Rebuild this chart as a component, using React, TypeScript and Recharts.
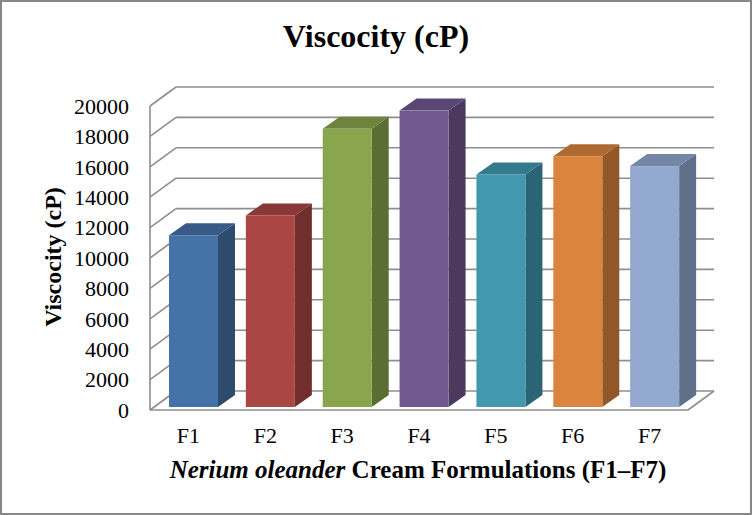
import { BarChart, Bar, XAxis, YAxis, CartesianGrid } from 'recharts';

const formulations = ['F1', 'F2', 'F3', 'F4', 'F5', 'F6', 'F7'];
const viscosity = [11300, 12600, 18300, 19500, 15300, 16500, 15850];
const yTicks = [0, 2000, 4000, 6000, 8000, 10000, 12000, 14000, 16000, 18000, 20000];
const faceColors = ['#4572a7', '#aa4643', '#89a54e', '#71588f', '#4198af', '#db843d', '#93a9cf'];

const data = formulations.map((name, i) => ({ name, viscosity: viscosity[i] }));

const W = 752;
const H = 515;
const MARGIN = { top: 106, right: 64, bottom: 75, left: 90 };
const XAXIS_H = 30;
const PLOT_BOTTOM = H - MARGIN.bottom - XAXIS_H;

// wall depth and bar depth (3d look)
const WALL_DX = 26;
const WALL_DY = 19;
const BAR_DX = 17;
const BAR_DY = 12;
const BAR_SHIFT_X = 5;
const BAR_SHIFT_Y = 3;

const GRID = '#8e8e8e';
const SERIF = "'Liberation Serif', 'Times New Roman', serif";
const tickStyle = { fill: '#000', fontSize: 22, fontFamily: SERIF, style: { fontFamily: SERIF } };

function shade(hex: string, k: number) {
  const n = parseInt(hex.slice(1), 16);
  const r = Math.round(((n >> 16) & 255) * k);
  const g = Math.round(((n >> 8) & 255) * k);
  const b = Math.round((n & 255) * k);
  return `rgb(${r},${g},${b})`;
}

function Bar3D(props: any) {
  const { x, y, width, height, index } = props;
  if (height == null || width == null) return null;
  const fx = x + BAR_SHIFT_X;
  const fy = y - BAR_SHIFT_Y;
  const c = faceColors[index % faceColors.length];
  const side = `${fx + width},${fy} ${fx + width + BAR_DX},${fy - BAR_DY} ${fx + width + BAR_DX},${fy + height - BAR_DY} ${fx + width},${fy + height}`;
  const top = `${fx},${fy} ${fx + BAR_DX},${fy - BAR_DY} ${fx + width + BAR_DX},${fy - BAR_DY} ${fx + width},${fy}`;
  return (
    <g>
      <polygon points={side} fill={shade(c, 0.66)} />
      <polygon points={top} fill={shade(c, 0.8)} />
      <rect x={fx} y={fy} width={width} height={height} fill={c} />
    </g>
  );
}

function gridLine(props: any) {
  const { x1, y1, x2, y2 } = props;
  const isFloor = Math.abs(y1 - PLOT_BOTTOM) < 0.5;
  return (
    <g key={`g-${y1}`} stroke={GRID} strokeWidth={1.6}>
      <line x1={x1} y1={y1} x2={x1 + WALL_DX} y2={y1 - WALL_DY} />
      <line x1={x1 + WALL_DX} y1={y1 - WALL_DY} x2={x2 + WALL_DX} y2={y2 - WALL_DY} />
      {isFloor && <line x1={x2} y1={y2} x2={x2 + WALL_DX} y2={y2 - WALL_DY} />}
    </g>
  );
}

export default function App() {
  return (
    <div
      style={{
        position: 'fixed',
        left: 0,
        top: 0,
        width: W,
        height: H,
        background: '#fff',
        fontFamily: SERIF,
      }}
    >
      <div
        style={{
          position: 'absolute',
          inset: 0,
          border: '2px solid #878787',
          boxSizing: 'border-box',
          pointerEvents: 'none',
        }}
      />
      <div
        style={{
          position: 'absolute',
          left: 0,
          top: 16,
          width: W,
          textAlign: 'center',
          fontWeight: 700,
          fontSize: 32,
          lineHeight: '40px',
        }}
      >
        Viscocity (cP)
      </div>
      <BarChart
        width={W}
        height={H}
        data={data}
        margin={MARGIN}
        style={{ position: 'absolute', left: 0, top: 0, fontFamily: SERIF }}
      >
        <CartesianGrid vertical={false} horizontal={gridLine} />
        <XAxis
          dataKey="name"
          height={XAXIS_H}
          axisLine={{ stroke: GRID, strokeWidth: 1.6 }}
          tickLine={false}
          tickSize={6}
          tickMargin={11}
          tick={tickStyle}
          label={{
            content: () => (
              <text
                x={418}
                y={478}
                textAnchor="middle"
                fontSize={25}
                fontWeight={700}
                fill="#000"
                style={{ fontFamily: SERIF }}
              >
                <tspan fontStyle="italic">Nerium oleander</tspan> Cream Formulations (F1–F7)
              </text>
            ),
          }}
        />
        <YAxis
          width={60}
          domain={[0, 20000]}
          ticks={yTicks}
          interval={0}
          axisLine={{ stroke: GRID, strokeWidth: 1.6 }}
          tickLine={false}
          tickSize={6}
          tickMargin={15}
          tick={tickStyle}
          label={{
            content: () => (
              <text
                x={53}
                y={257}
                transform="rotate(-90 53 257)"
                textAnchor="middle"
                dominantBaseline="central"
                fontSize={24}
                fontWeight={700}
                fill="#000"
                style={{ fontFamily: SERIF }}
              >
                Viscocity (cP)
              </text>
            ),
          }}
        />
        <Bar dataKey="viscosity" barSize={49} shape={Bar3D} isAnimationActive={false} />
      </BarChart>
    </div>
  );
}
